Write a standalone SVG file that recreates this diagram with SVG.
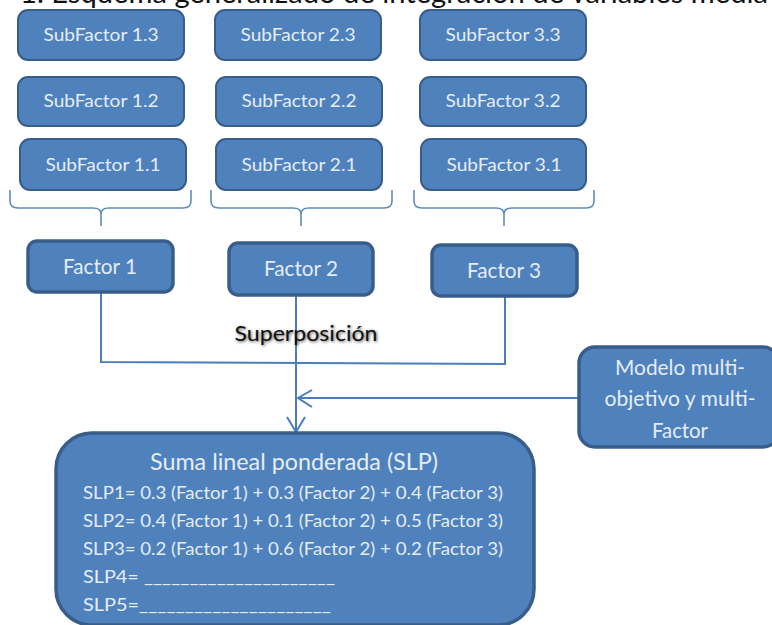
<svg xmlns="http://www.w3.org/2000/svg" width="772" height="625" viewBox="0 0 772 625">
<defs>
<filter id="sh" x="-10%" y="-40%" width="120%" height="200%"><feGaussianBlur stdDeviation="1.5"/></filter>
</defs>
<style>
.n{fill:#4f81bd;stroke:#385d8a;stroke-width:2}
.f{stroke-width:3.5}
.t{font-family:Lato,"Open Sans","Liberation Sans",sans-serif;fill:#e4edf6;text-anchor:middle;font-size:18px}
.b{font-size:21px}
.l{font-family:Lato,"Open Sans","Liberation Sans",sans-serif;fill:#e4edf6;font-size:18px}
.c{fill:none;stroke:#4a7ebb;stroke-width:2}
.k{fill:none;stroke:#5f8cc0;stroke-width:1.6}
.h{font-family:Lato,"Open Sans","Liberation Sans",sans-serif;font-size:22px;text-anchor:middle}
</style>
<text x="20" y="3" font-family="Lato,'Open Sans','Liberation Sans',sans-serif" font-size="28" fill="#111" textLength="748" lengthAdjust="spacingAndGlyphs">1. Esquema generalizado de integración de variables media</text>
<g id="connectors">
<path class="k" d="M10 190V201Q10 208 18 208H93Q101 208 101 214V226M101 214Q101 208 109 208H183Q191 208 191 201V190"/>
<path class="k" d="M211 190V201Q211 208 219 208H293Q301 208 301 214V226M301 214Q301 208 309 208H384Q392 208 392 201V190"/>
<path class="k" d="M414 190V201Q414 208 422 208H496Q504 208 504 214V226M504 214Q504 208 512 208H586Q594 208 594 201V190"/>
<path class="c" d="M101 292V362L505 364V296"/>
<path class="c" d="M296 295V432"/>
<path class="c" d="M287 417L296 432L305 417"/>
<path class="c" d="M578 398H298"/>
<path class="c" d="M312 390L298 398L312 407"/>
</g>
<g id="sf13"><rect class="n" x="18" y="10" width="166" height="50" rx="10"/><text class="t" x="101" y="41" textLength="115" lengthAdjust="spacingAndGlyphs">SubFactor 1.3</text></g>
<g id="sf12"><rect class="n" x="18" y="77" width="166" height="49" rx="10"/><text class="t" x="101" y="107" textLength="115" lengthAdjust="spacingAndGlyphs">SubFactor 1.2</text></g>
<g id="sf11"><rect class="n" x="20" y="139" width="166" height="51" rx="10"/><text class="t" x="103" y="171" textLength="115" lengthAdjust="spacingAndGlyphs">SubFactor 1.1</text></g>
<g id="sf23"><rect class="n" x="215" y="10" width="166" height="50" rx="10"/><text class="t" x="298" y="41" textLength="115" lengthAdjust="spacingAndGlyphs">SubFactor 2.3</text></g>
<g id="sf22"><rect class="n" x="216" y="77" width="166" height="49" rx="10"/><text class="t" x="299" y="107" textLength="115" lengthAdjust="spacingAndGlyphs">SubFactor 2.2</text></g>
<g id="sf21"><rect class="n" x="216" y="139" width="166" height="51" rx="10"/><text class="t" x="299" y="171" textLength="115" lengthAdjust="spacingAndGlyphs">SubFactor 2.1</text></g>
<g id="sf33"><rect class="n" x="420" y="10" width="166" height="50" rx="10"/><text class="t" x="503" y="41" textLength="115" lengthAdjust="spacingAndGlyphs">SubFactor 3.3</text></g>
<g id="sf32"><rect class="n" x="420" y="77" width="166" height="49" rx="10"/><text class="t" x="503" y="107" textLength="115" lengthAdjust="spacingAndGlyphs">SubFactor 3.2</text></g>
<g id="sf31"><rect class="n" x="421" y="139" width="165" height="51" rx="10"/><text class="t" x="504" y="171" textLength="115" lengthAdjust="spacingAndGlyphs">SubFactor 3.1</text></g>
<g id="f1"><rect class="n f" x="28" y="241" width="145" height="51" rx="9"/><text class="t b" x="100" y="274" textLength="74" lengthAdjust="spacingAndGlyphs">Factor 1</text></g>
<g id="f2"><rect class="n f" x="229" y="243" width="144" height="52" rx="9"/><text class="t b" x="301" y="276" textLength="74" lengthAdjust="spacingAndGlyphs">Factor 2</text></g>
<g id="f3"><rect class="n f" x="432" y="245" width="145" height="51" rx="9"/><text class="t b" x="504" y="278" textLength="74" lengthAdjust="spacingAndGlyphs">Factor 3</text></g>
<g id="superposicion">
<text class="h" x="307" y="342" fill="#555" filter="url(#sh)" textLength="143" lengthAdjust="spacingAndGlyphs">Superposición</text>
<text class="h" x="306" y="341" fill="#111" textLength="143" lengthAdjust="spacingAndGlyphs">Superposición</text>
</g>
<g id="modelo"><rect class="n f" x="579" y="347" width="200" height="100" rx="16"/>
<text class="t" x="680" y="375" style="font-size:21px" textLength="130" lengthAdjust="spacingAndGlyphs">Modelo multi-</text>
<text class="t" x="680" y="406" style="font-size:21px" textLength="151" lengthAdjust="spacingAndGlyphs">objetivo y multi-</text>
<text class="t" x="680" y="438" style="font-size:21px" textLength="56" lengthAdjust="spacingAndGlyphs">Factor</text></g>
<g id="slp"><rect class="n f" x="56" y="433" width="478" height="192" rx="36"/>
<text class="t" x="294" y="470" style="font-size:24px" textLength="288" lengthAdjust="spacingAndGlyphs">Suma lineal ponderada (SLP)</text>
<text class="l" x="83" y="499" textLength="420" lengthAdjust="spacingAndGlyphs">SLP1= 0.3 (Factor 1) + 0.3 (Factor 2) + 0.4 (Factor 3)</text>
<text class="l" x="83" y="527" textLength="420" lengthAdjust="spacingAndGlyphs">SLP2= 0.4 (Factor 1) + 0.1 (Factor 2) + 0.5 (Factor 3)</text>
<text class="l" x="83" y="555" textLength="420" lengthAdjust="spacingAndGlyphs">SLP3= 0.2 (Factor 1) + 0.6 (Factor 2) + 0.2 (Factor 3)</text>
<text class="l" x="83" y="583" textLength="252" lengthAdjust="spacingAndGlyphs">SLP4= _____________________</text>
<text class="l" x="83" y="611" textLength="248" lengthAdjust="spacingAndGlyphs">SLP5=_____________________</text></g>
</svg>
